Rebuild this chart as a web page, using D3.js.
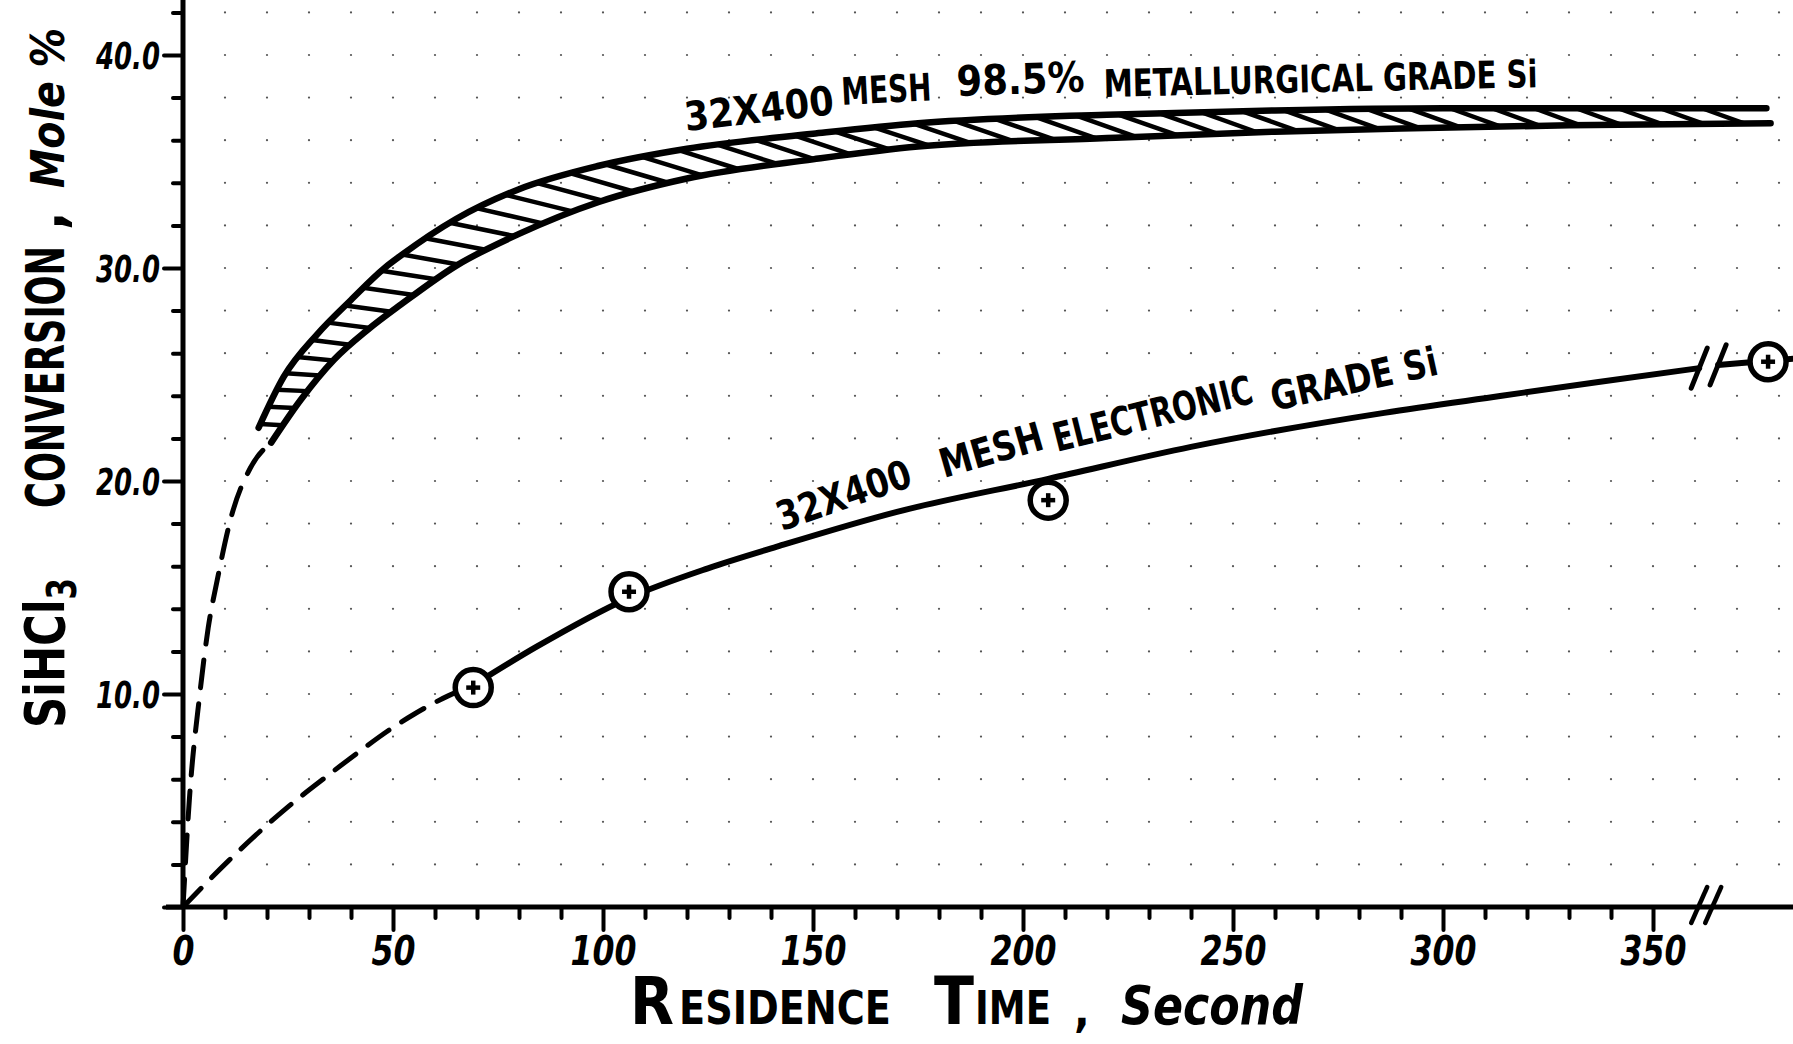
<!DOCTYPE html>
<html>
<head>
<meta charset="utf-8">
<script src="https://cdn.jsdelivr.net/npm/d3@7"></script>
<style>
  html, body { margin: 0; padding: 0; background: #fff; }
  svg { display: block; }
</style>
</head>
<body>
<svg id="chart" width="1793" height="1044"></svg>
<script>
// ---------------- DATA ----------------
const xMajorTicks = [0, 50, 100, 150, 200, 250, 300, 350];
const xMinorTicks = [10, 20, 30, 40, 60, 70, 80, 90, 110, 120, 130, 140, 160, 170, 180, 190,
                     210, 220, 230, 240, 260, 270, 280, 290, 310, 320, 330, 340];
const yMajorTicks = [0, 10, 20, 30, 40];
const yTickLabels = ["", "10.0", "20.0", "30.0", "40.0"];
const yMinorTicks = [2, 4, 6, 8, 12, 14, 16, 18, 22, 24, 26, 28, 32, 34, 36, 38, 42];

// 98.5% metallurgical grade Si : hatched band (upper / lower edge) + dashed extrapolation
const metUpper = [[18,22.5],[24,24.9],[32,26.9],[40,28.5],[48,30.0],[52,30.6],[65,32.3],[80,33.7],
                  [99,34.8],[120,35.6],[150,36.3],[175,36.8],[220,37.2],[260,37.4],[300,37.5],[340,37.5],[377,37.5]];
const metLower = [[21,21.8],[28,23.8],[36,25.7],[44,27.1],[52,28.3],[65,30.1],[80,31.6],[99,33.1],
                  [120,34.2],[150,35.1],[175,35.7],[220,36.1],[260,36.4],[290,36.55],[330,36.7],[378,36.8]];
const metDashed = [[0,0],[1.5,5.0],[4.0,10.0],[6.0,13.1],[8.2,15.4],[11.6,18.4],[16,20.6],[21,21.8]];

// Electronic grade Si : measured points and fitted curve
const elecPoints  = [[69.1,10.3],[106.2,14.8],[206,19.1],[377.4,25.6]];
const elecDashed  = [[0,0],[11,2.2],[25,4.7],[34,6.1],[42,7.3],[49,8.3],[55,9.05],[63,9.9],[69,10.4]];
const elecSolid   = [[69,10.4],[84,12.2],[106,14.5],[125,15.9],[142,16.95],[170,18.55],[206,20.1],
                     [240,21.6],[286,23.2],[314,24.0],[337,24.65],[361,25.3]];
const elecAfterBreak = [[365.5,25.45],[377.4,25.65],[384,25.75]];
const axisBreakAt = 361;
const lineBreakAt = [361, 365.5];

// grid of graph paper dots
const gridX = d3.range(10, 381, 10);
const gridY = d3.range(2, 43, 2);

// ---------------- CHART ----------------
const HAND = "'Liberation Sans Narrow','DejaVu Sans Condensed','Roboto Condensed','Liberation Sans',sans-serif";
const svg = d3.select("#chart");
svg.append("rect").attr("width", 1793).attr("height", 1044).attr("fill", "#fff");

const x = d3.scaleLinear().domain([0, 350]).range([183, 1653]);
const y = d3.scaleLinear().domain([0, 40]).range([907, 55]);

// graph-paper dots
const gDots = svg.append("g");
gridX.forEach(gx => gridY.forEach(gy => {
  gDots.append("circle").attr("cx", x(gx)).attr("cy", y(gy)).attr("r", 1.1).attr("fill", "#555");
}));

// ---- axes ----
const gx = svg.append("g").attr("transform", `translate(0,${y(0)})`);
gx.append("g").call(d3.axisBottom(x).tickValues(xMinorTicks).tickSize(11).tickFormat(""))
  .call(g => g.select(".domain").remove());
gx.append("g").call(d3.axisBottom(x).tickValues(xMajorTicks).tickSize(23).tickPadding(8).tickFormat(d3.format("d")))
  .call(g => g.select(".domain").remove());
gx.selectAll(".tick line").attr("stroke", "#000").attr("stroke-width", 4).attr("stroke-linecap", "round");
gx.selectAll(".tick text")
  .attr("font-family", HAND).attr("font-size", 40).attr("font-style", "italic").attr("font-weight", "bold")
  .attr("fill", "#000").attr("y", 58).attr("dy", null)
  .attr("textLength", d => String(d).length * 22).attr("lengthAdjust", "spacingAndGlyphs");
gx.append("line").attr("x1", 166).attr("x2", 1793).attr("y1", 0).attr("y2", 0)
  .attr("stroke", "#000").attr("stroke-width", 5);

const gy = svg.append("g").attr("transform", `translate(${x(0)},0)`);
gy.append("g").call(d3.axisLeft(y).tickValues(yMinorTicks).tickSize(10).tickFormat(""))
  .call(g => g.select(".domain").remove());
gy.append("g").call(d3.axisLeft(y).tickValues(yMajorTicks).tickSize(19).tickPadding(4)
  .tickFormat((d, i) => yTickLabels[i]))
  .call(g => g.select(".domain").remove());
gy.selectAll(".tick line").attr("stroke", "#000").attr("stroke-width", 4).attr("stroke-linecap", "round");
gy.selectAll(".tick text")
  .attr("font-family", HAND).attr("font-size", 38).attr("font-style", "italic").attr("font-weight", "bold")
  .attr("fill", "#000").attr("dy", "0.36em")
  .attr("textLength", 64).attr("lengthAdjust", "spacingAndGlyphs");
gy.append("line").attr("x1", 0).attr("x2", 0).attr("y1", 0).attr("y2", y(0))
  .attr("stroke", "#000").attr("stroke-width", 5);

// axis break marks
const brk = svg.append("g").attr("stroke", "#000").attr("stroke-width", 4.5).attr("stroke-linecap", "round");
[0, 14].forEach(o => {
  const bx = x(axisBreakAt) + o;
  brk.append("line").attr("x1", bx - 8).attr("y1", y(0) + 16).attr("x2", bx + 8).attr("y2", y(0) - 20);
});

// ---- curves ----
const line = d3.line().x(d => x(d[0])).y(d => y(d[1])).curve(d3.curveMonotoneX);

// metallurgical band
const gBand = svg.append("g");
const upperPath = gBand.append("path").attr("d", line(metUpper)).attr("fill", "none")
  .attr("stroke", "#000").attr("stroke-width", 6.5).attr("stroke-linecap", "round");
const lowerPath = gBand.append("path").attr("d", line(metLower)).attr("fill", "none")
  .attr("stroke", "#000").attr("stroke-width", 6.5).attr("stroke-linecap", "round");

// hatching between the two edges
(function hatch() {
  const uN = upperPath.node(), lN = lowerPath.node();
  const uLen = uN.getTotalLength(), lLen = lN.getTotalLength();
  const lowerPts = d3.range(0, lLen, 1).map(s => lN.getPointAtLength(s));
  let s = 4;
  while (s < uLen - 6) {
    const p = uN.getPointAtLength(s);
    const p2 = uN.getPointAtLength(Math.min(uLen, s + 3));
    const phi = Math.atan2(-(p2.y - p.y), p2.x - p.x) * 180 / Math.PI;
    const th = (20 - 0.27 * phi) * Math.PI / 180;
    const dx = Math.cos(th), dy = Math.sin(th);
    let best = null, bestD = Infinity;
    for (const q of lowerPts) {
      const vx = q.x - p.x, vy = q.y - p.y;
      const t = vx * dx + vy * dy;
      if (t <= 0 || t > 90) continue;
      const d = Math.abs(vx * dy - vy * dx);
      if (d < bestD) { bestD = d; best = q; }
    }
    if (best && bestD < 2.5) {
      gBand.append("line").attr("x1", p.x).attr("y1", p.y).attr("x2", best.x).attr("y2", best.y)
        .attr("stroke", "#000").attr("stroke-width", 4.5).attr("stroke-linecap", "round");
    }
    s += 19 + 23 * Math.max(0, Math.min(1, 1 - phi / 60));
  }
})();

svg.append("path").attr("d", line(metDashed)).attr("fill", "none")
  .attr("stroke", "#000").attr("stroke-width", 5).attr("stroke-dasharray", "28,16").attr("stroke-linecap", "round");

// electronic grade curve
svg.append("path").attr("d", line(elecDashed)).attr("fill", "none")
  .attr("stroke", "#000").attr("stroke-width", 5).attr("stroke-dasharray", "26,15").attr("stroke-linecap", "round");
svg.append("path").attr("d", line(elecSolid)).attr("fill", "none")
  .attr("stroke", "#000").attr("stroke-width", 6).attr("stroke-linecap", "round");
svg.append("path").attr("d", line(elecAfterBreak)).attr("fill", "none")
  .attr("stroke", "#000").attr("stroke-width", 6).attr("stroke-linecap", "round");

// break marks on the curve
lineBreakAt.forEach(bv => {
  const cy = y(bv < 363 ? 25.3 : 25.45);
  svg.append("line").attr("x1", x(bv) - 8).attr("y1", cy + 20).attr("x2", x(bv) + 8).attr("y2", cy - 20)
    .attr("stroke", "#000").attr("stroke-width", 5).attr("stroke-linecap", "round");
});

// data points: circle with plus
const gPts = svg.append("g");
elecPoints.forEach(d => {
  const cx = x(d[0]), cy = y(d[1]);
  gPts.append("circle").attr("cx", cx).attr("cy", cy).attr("r", 18)
    .attr("fill", "#fff").attr("stroke", "#000").attr("stroke-width", 5.5);
  gPts.append("line").attr("x1", cx - 7).attr("x2", cx + 7).attr("y1", cy).attr("y2", cy)
    .attr("stroke", "#000").attr("stroke-width", 4.5);
  gPts.append("line").attr("x1", cx).attr("x2", cx).attr("y1", cy - 7).attr("y2", cy + 7)
    .attr("stroke", "#000").attr("stroke-width", 4.5);
});

// ---- text ----
function txt(str, tx, ty, angle, len, size, opts = {}) {
  const t = svg.append("text")
    .attr("transform", `translate(${tx},${ty}) rotate(${angle})`)
    .attr("font-family", HAND).attr("font-size", size)
    .attr("font-weight", opts.weight || "bold")
    .attr("font-style", opts.style || "normal")
    .attr("fill", "#000");
  if (len) t.attr("textLength", len).attr("lengthAdjust", "spacingAndGlyphs");
  t.text(str);
  return t;
}

// annotations
txt("32X400", 686, 131, -6.5, 150, 40);
txt("MESH", 842, 105, -3, 90, 38);
txt("98.5%", 957, 96, -2, 128, 42);
txt("METALLURGICAL GRADE Si", 1104, 97, -1.3, 434, 38);

txt("32X400", 782, 531, -19, 140, 40);
txt("MESH", 944, 478, -16, 106, 40);
txt("ELECTRONIC", 1057, 452, -14, 204, 40);
txt("GRADE Si", 1274, 411, -12.5, 170, 40);

// x axis title
txt("R", 630, 1024, 0, 44, 66);
txt("ESIDENCE", 679, 1024, 0, 212, 46);
txt("T", 934, 1024, 0, 40, 66);
txt("IME", 975, 1024, 0, 76, 46);
txt(",", 1074, 1026, 0, null, 46);
txt("Second", 1121, 1024, 0, 182, 54, {style: "italic"});

// y axis title (rotated)
const yt1 = svg.append("text").attr("transform", "translate(64,728) rotate(-90)")
  .attr("font-family", HAND).attr("font-size", 56).attr("font-weight", "bold").attr("fill", "#000")
  .attr("textLength", 150).attr("lengthAdjust", "spacingAndGlyphs");
yt1.append("tspan").text("SiHCl");
yt1.append("tspan").attr("font-size", 40).attr("dy", 12).text("3");
txt("CONVERSION", 64, 508, -90, 262, 54);
txt(",", 64, 230, -90, null, 54);
txt("Mole %", 64, 188, -90, 160, 46, {style: "italic"});
</script>
</body>
</html>
